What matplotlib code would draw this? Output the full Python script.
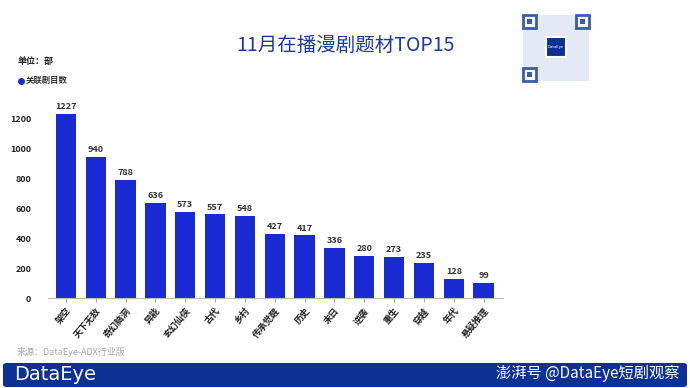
import matplotlib
matplotlib.use("Agg")
import matplotlib.pyplot as plt
from matplotlib.patches import FancyBboxPatch, Rectangle
from matplotlib.lines import Line2D

plt.rcParams['font.family'] = ['Noto Sans CJK SC', 'DejaVu Sans']

# 数据
genres = ['架空', '天下无敌', '奇幻脑洞', '异能', '玄幻仙侠', '古代', '乡村', '传承觉醒',
          '历史', '末日', '逆袭', '重生', '穿越', '年代', '悬疑推理']
counts = [1227, 940, 788, 636, 573, 557, 548, 427, 417, 336, 280, 273, 235, 128, 99]
yticks = [0, 200, 400, 600, 800, 1000, 1200]

W, H = 690, 388
fig = plt.figure(figsize=(W / 100, H / 100), dpi=100)
fig.patch.set_facecolor('white')

def fx(px):
    return px / W

def fy(py):
    return 1 - py / H

bar_color = '#1a2bd4'
navy = '#0b3195'

# 主图
ax = fig.add_axes([fx(48), fy(298), fx(455), 195 / H])
x = list(range(len(genres)))
ax.bar(x, counts, width=0.68, color=bar_color, zorder=2)
for xi, v in zip(x, counts):
    ax.text(xi, v + 18, str(v), ha='center', va='bottom', fontsize=6.5,
            fontweight='bold', color='#333333')
ax.set_xlim(-0.6, len(genres) - 0.35)
ax.set_ylim(0, 1300)
ax.set_yticks(yticks)
ax.set_yticklabels([str(t) for t in yticks], fontsize=6.5, fontweight='bold', color='#222222')
ax.set_xticks(x)
ax.set_xticklabels(genres, rotation=50, ha='right', rotation_mode='anchor',
                   fontsize=6.5, fontweight='bold', color='#222222')
ax.tick_params(axis='y', length=0, pad=12)
ax.tick_params(axis='x', length=3, color='#aaaaaa', pad=3)
for s in ['top', 'right', 'left']:
    ax.spines[s].set_visible(False)
ax.spines['bottom'].set_color('#bbbbbb')
ax.set_facecolor('none')

# 标题
fig.text(0.5, fy(45), '11月在播漫剧题材TOP15', ha='center', va='center',
         fontsize=14, color='#1a3aa0')
fig.text(fx(18), fy(61), '单位：部', fontsize=6.5, fontweight='bold', color='#222222',
         va='center')
fig.add_artist(Line2D([fx(20.5)], [fy(80.5)], marker='o', markersize=4,
                      color=bar_color, linestyle='none', transform=fig.transFigure))
fig.text(fx(26), fy(80.5), '关联剧目数', fontsize=6, fontweight='bold', color='#333333',
         va='center')

# 二维码示意
qx, qy, qs = 523, 15, 66
fig.patches.append(Rectangle((fx(qx), fy(qy + qs)), fx(qs), qs / H, facecolor='#e3e9f5',
                             edgecolor='none', transform=fig.transFigure, figure=fig))
for cx, cy in [(qx, qy), (qx + qs - 13, qy), (qx, qy + qs - 13)]:
    fig.patches.append(Rectangle((fx(cx), fy(cy + 13)), fx(13), 13 / H, facecolor='white',
                                 edgecolor='#3a5bb0', linewidth=2.0,
                                 transform=fig.transFigure, figure=fig))
    fig.patches.append(Rectangle((fx(cx + 4), fy(cy + 9)), fx(5), 5 / H, facecolor='#3a5bb0',
                                 edgecolor='none', transform=fig.transFigure, figure=fig))
fig.patches.append(Rectangle((fx(546), fy(57)), fx(20), 20 / H, facecolor=navy,
                             edgecolor='white', linewidth=1.5,
                             transform=fig.transFigure, figure=fig))
fig.text(fx(556), fy(47), 'DataEye', fontsize=3, color='white', ha='center', va='center')

# 来源
fig.text(fx(17), fy(352), '来源：DataEye-ADX行业版', fontsize=6.5, color='#aaaaaa',
         va='center')

# 底部横条
fig.patches.append(FancyBboxPatch((fx(3), fy(387)), fx(684), 24 / H,
                                  boxstyle='round,pad=0,rounding_size=0.006',
                                  facecolor=navy, edgecolor='none',
                                  transform=fig.transFigure, figure=fig))
fig.text(fx(14), fy(375), 'DataEye', fontsize=14, color='white', va='center',
         family='DejaVu Sans')
fig.text(fx(680), fy(373), '澎湃号 @DataEye短剧观察', fontsize=11, color='white',
         va='center', ha='right')

fig.savefig('out.png', dpi=100)
